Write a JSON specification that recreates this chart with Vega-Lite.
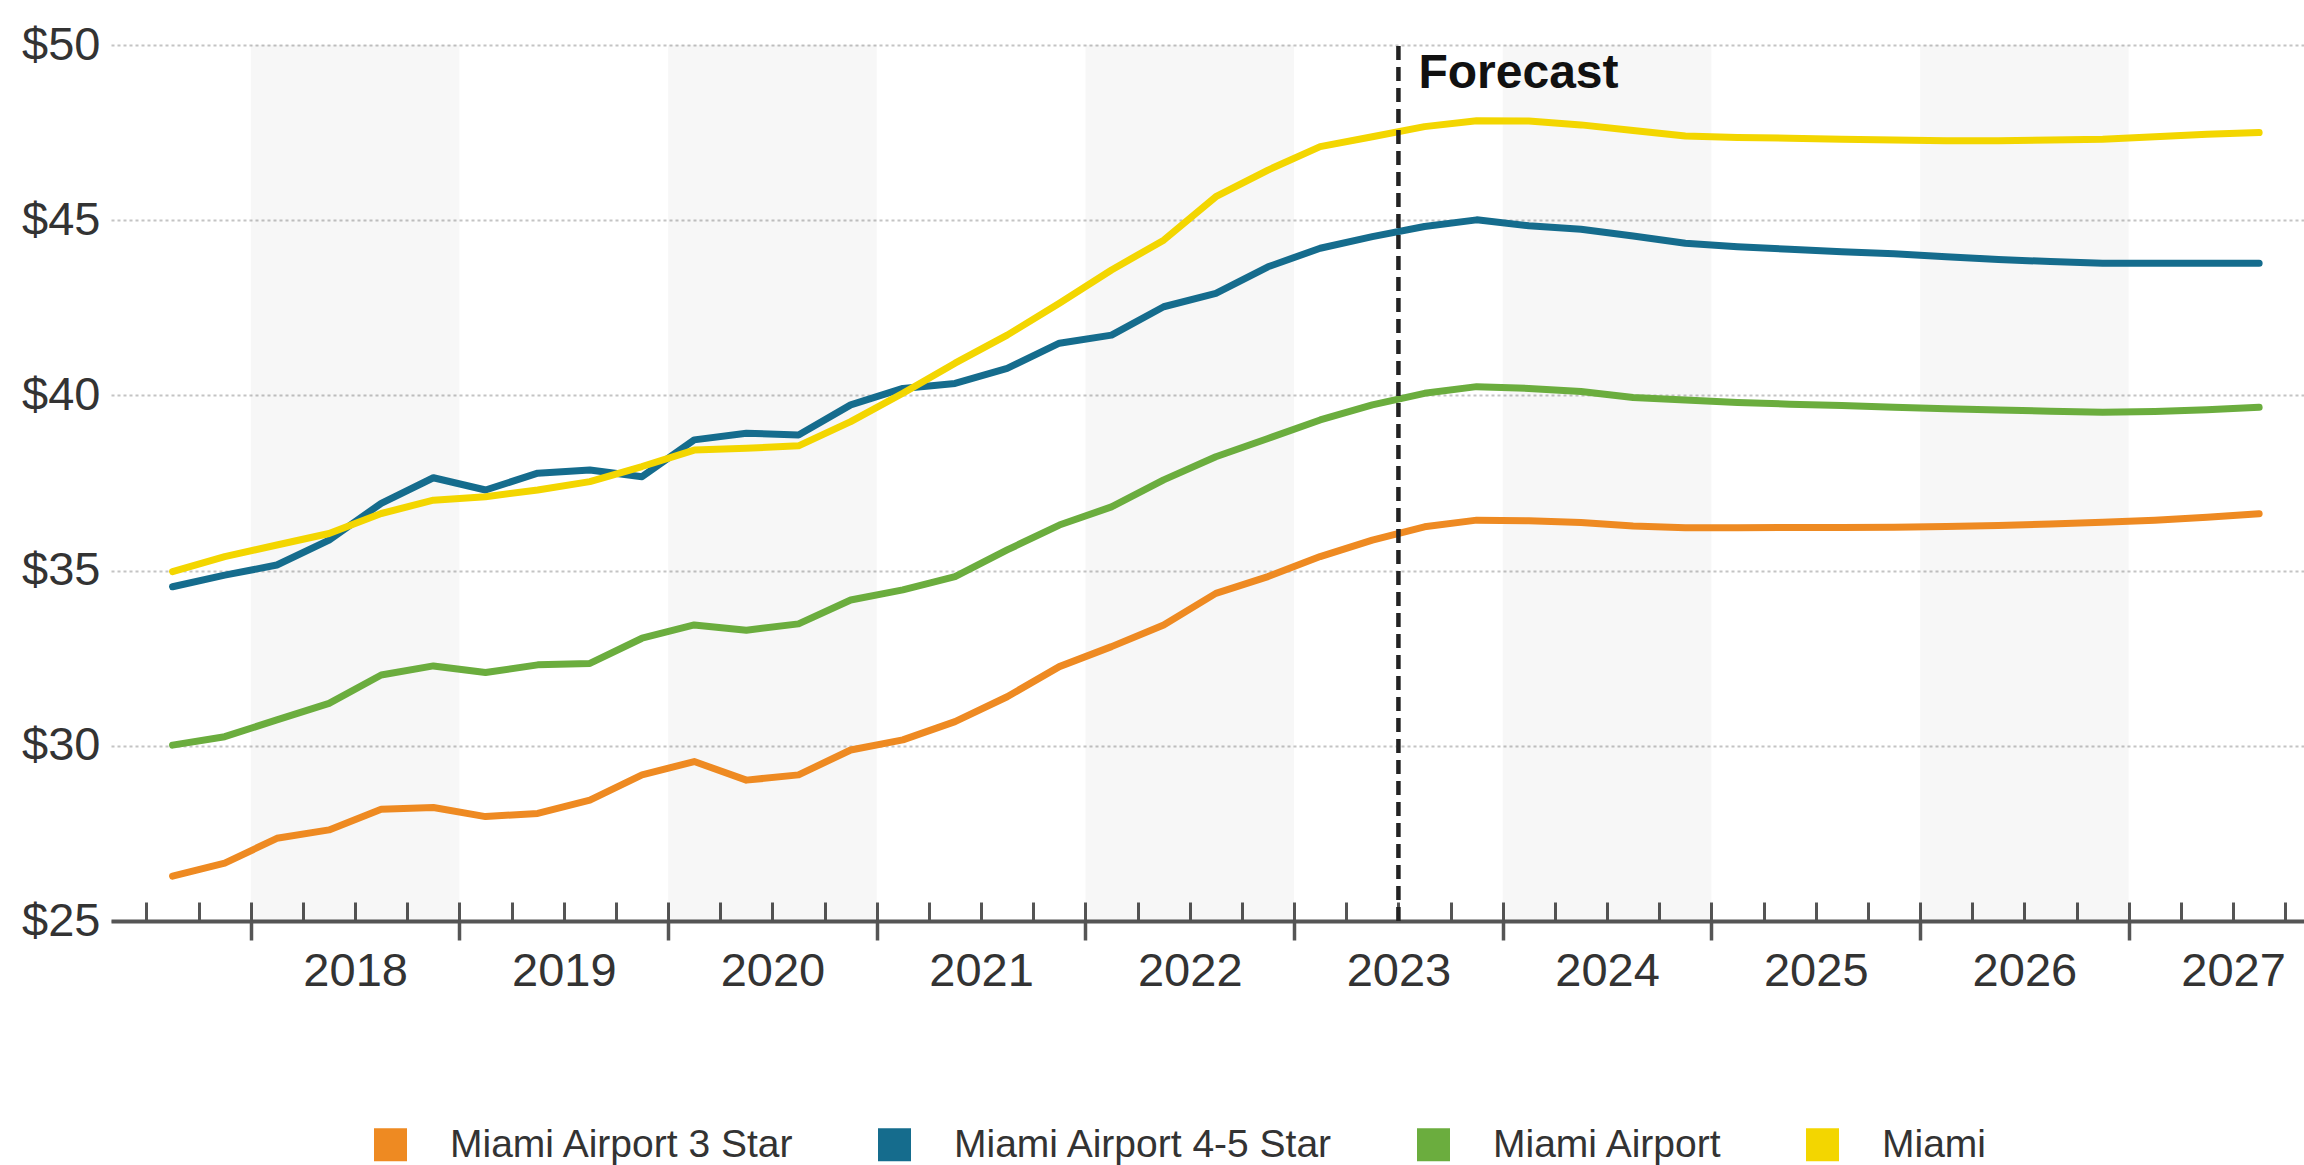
{
  "$schema": "https://vega.github.io/schema/vega-lite/v6.json",
  "width": 2193,
  "height": 876,
  "autosize": {"type": "none"},
  "padding": {"left": 111, "top": 45, "right": 0, "bottom": 244},
  "background": "white",
  "config": {"view": {"stroke": null}, "font": "Liberation Sans"},
  "datasets": {
    "rents": [
      {"t": 2017.625, "Miami Airport 3 Star": 26.28, "Miami Airport 4-5 Star": 34.54, "Miami Airport": 30.02, "Miami": 34.97},
      {"t": 2017.875, "Miami Airport 3 Star": 26.65, "Miami Airport 4-5 Star": 34.87, "Miami Airport": 30.26, "Miami": 35.40},
      {"t": 2018.125, "Miami Airport 3 Star": 27.36, "Miami Airport 4-5 Star": 35.16, "Miami Airport": 30.74, "Miami": 35.73},
      {"t": 2018.375, "Miami Airport 3 Star": 27.60, "Miami Airport 4-5 Star": 35.87, "Miami Airport": 31.21, "Miami": 36.06},
      {"t": 2018.625, "Miami Airport 3 Star": 28.19, "Miami Airport 4-5 Star": 36.92, "Miami Airport": 32.02, "Miami": 36.63},
      {"t": 2018.875, "Miami Airport 3 Star": 28.24, "Miami Airport 4-5 Star": 37.65, "Miami Airport": 32.28, "Miami": 37.01},
      {"t": 2019.125, "Miami Airport 3 Star": 27.98, "Miami Airport 4-5 Star": 37.30, "Miami Airport": 32.09, "Miami": 37.11},
      {"t": 2019.375, "Miami Airport 3 Star": 28.07, "Miami Airport 4-5 Star": 37.78, "Miami Airport": 32.31, "Miami": 37.30},
      {"t": 2019.625, "Miami Airport 3 Star": 28.45, "Miami Airport 4-5 Star": 37.87, "Miami Airport": 32.35, "Miami": 37.54},
      {"t": 2019.875, "Miami Airport 3 Star": 29.17, "Miami Airport 4-5 Star": 37.68, "Miami Airport": 33.07, "Miami": 37.97},
      {"t": 2020.125, "Miami Airport 3 Star": 29.55, "Miami Airport 4-5 Star": 38.73, "Miami Airport": 33.45, "Miami": 38.44},
      {"t": 2020.375, "Miami Airport 3 Star": 29.02, "Miami Airport 4-5 Star": 38.92, "Miami Airport": 33.30, "Miami": 38.49},
      {"t": 2020.625, "Miami Airport 3 Star": 29.17, "Miami Airport 4-5 Star": 38.87, "Miami Airport": 33.48, "Miami": 38.56},
      {"t": 2020.875, "Miami Airport 3 Star": 29.88, "Miami Airport 4-5 Star": 39.73, "Miami Airport": 34.16, "Miami": 39.25},
      {"t": 2021.125, "Miami Airport 3 Star": 30.17, "Miami Airport 4-5 Star": 40.20, "Miami Airport": 34.45, "Miami": 40.06},
      {"t": 2021.375, "Miami Airport 3 Star": 30.69, "Miami Airport 4-5 Star": 40.34, "Miami Airport": 34.83, "Miami": 40.92},
      {"t": 2021.625, "Miami Airport 3 Star": 31.40, "Miami Airport 4-5 Star": 40.77, "Miami Airport": 35.59, "Miami": 41.72},
      {"t": 2021.875, "Miami Airport 3 Star": 32.26, "Miami Airport 4-5 Star": 41.49, "Miami Airport": 36.30, "Miami": 42.63},
      {"t": 2022.125, "Miami Airport 3 Star": 32.83, "Miami Airport 4-5 Star": 41.72, "Miami Airport": 36.82, "Miami": 43.58},
      {"t": 2022.375, "Miami Airport 3 Star": 33.45, "Miami Airport 4-5 Star": 42.53, "Miami Airport": 37.59, "Miami": 44.43},
      {"t": 2022.625, "Miami Airport 3 Star": 34.35, "Miami Airport 4-5 Star": 42.91, "Miami Airport": 38.25, "Miami": 45.67},
      {"t": 2022.875, "Miami Airport 3 Star": 34.83, "Miami Airport 4-5 Star": 43.67, "Miami Airport": 38.77, "Miami": 46.43},
      {"t": 2023.125, "Miami Airport 3 Star": 35.40, "Miami Airport 4-5 Star": 44.20, "Miami Airport": 39.30, "Miami": 47.10},
      {"t": 2023.375, "Miami Airport 3 Star": 35.87, "Miami Airport 4-5 Star": 44.53, "Miami Airport": 39.73, "Miami": 47.38},
      {"t": 2023.625, "Miami Airport 3 Star": 36.25, "Miami Airport 4-5 Star": 44.82, "Miami Airport": 40.06, "Miami": 47.67},
      {"t": 2023.875, "Miami Airport 3 Star": 36.44, "Miami Airport 4-5 Star": 45.01, "Miami Airport": 40.25, "Miami": 47.84},
      {"t": 2024.125, "Miami Airport 3 Star": 36.42, "Miami Airport 4-5 Star": 44.84, "Miami Airport": 40.20, "Miami": 47.83},
      {"t": 2024.375, "Miami Airport 3 Star": 36.37, "Miami Airport 4-5 Star": 44.74, "Miami Airport": 40.11, "Miami": 47.72},
      {"t": 2024.625, "Miami Airport 3 Star": 36.27, "Miami Airport 4-5 Star": 44.55, "Miami Airport": 39.94, "Miami": 47.56},
      {"t": 2024.875, "Miami Airport 3 Star": 36.22, "Miami Airport 4-5 Star": 44.34, "Miami Airport": 39.87, "Miami": 47.40},
      {"t": 2025.125, "Miami Airport 3 Star": 36.22, "Miami Airport 4-5 Star": 44.24, "Miami Airport": 39.80, "Miami": 47.36},
      {"t": 2025.375, "Miami Airport 3 Star": 36.23, "Miami Airport 4-5 Star": 44.17, "Miami Airport": 39.75, "Miami": 47.34},
      {"t": 2025.625, "Miami Airport 3 Star": 36.23, "Miami Airport 4-5 Star": 44.10, "Miami Airport": 39.71, "Miami": 47.31},
      {"t": 2025.875, "Miami Airport 3 Star": 36.24, "Miami Airport 4-5 Star": 44.04, "Miami Airport": 39.66, "Miami": 47.29},
      {"t": 2026.125, "Miami Airport 3 Star": 36.26, "Miami Airport 4-5 Star": 43.96, "Miami Airport": 39.62, "Miami": 47.27},
      {"t": 2026.375, "Miami Airport 3 Star": 36.29, "Miami Airport 4-5 Star": 43.88, "Miami Airport": 39.58, "Miami": 47.27},
      {"t": 2026.625, "Miami Airport 3 Star": 36.33, "Miami Airport 4-5 Star": 43.82, "Miami Airport": 39.55, "Miami": 47.29},
      {"t": 2026.875, "Miami Airport 3 Star": 36.38, "Miami Airport 4-5 Star": 43.77, "Miami Airport": 39.52, "Miami": 47.31},
      {"t": 2027.125, "Miami Airport 3 Star": 36.44, "Miami Airport 4-5 Star": 43.77, "Miami Airport": 39.54, "Miami": 47.38},
      {"t": 2027.375, "Miami Airport 3 Star": 36.52, "Miami Airport 4-5 Star": 43.77, "Miami Airport": 39.59, "Miami": 47.45},
      {"t": 2027.625, "Miami Airport 3 Star": 36.62, "Miami Airport 4-5 Star": 43.77, "Miami Airport": 39.66, "Miami": 47.50}
    ],
    "bands": [
      {"start": 2018, "end": 2019},
      {"start": 2020, "end": 2021},
      {"start": 2022, "end": 2023},
      {"start": 2024, "end": 2025},
      {"start": 2026, "end": 2027}
    ],
    "marker": [
      {"start": 2023.5, "label": "Forecast"}
    ]
  },
  "layer": [
    {
      "data": {"name": "bands"},
      "mark": {"type": "rect", "color": "#000000", "opacity": 0.03},
      "encoding": {
        "x": {
          "field": "start", "type": "quantitative",
          "scale": {"domain": [2017.33, 2027.84], "nice": false, "zero": false},
          "axis": {
            "orient": "bottom", "title": null,
            "values": [2018.5, 2019.5, 2020.5, 2021.5, 2022.5, 2023.5, 2024.5, 2025.5, 2026.5, 2027.5],
            "labelExpr": "format(floor(datum.value), 'd')",
            "ticks": false, "domain": false, "grid": false,
            "labelFontSize": 47, "labelColor": "#333333", "labelFont": "Liberation Sans",
            "labelBaseline": "alphabetic", "labelPadding": 64,
            "labelOverlap": false, "labelFlush": false
          }
        },
        "x2": {"field": "end"},
        "y": {
          "datum": 25, "type": "quantitative",
          "scale": {"domain": [25, 50], "nice": false, "zero": false},
          "axis": {
            "orient": "left", "title": null,
            "values": [25, 30, 35, 40, 45, 50],
            "labelExpr": "'$' + datum.value",
            "domain": false, "ticks": false,
            "grid": true, "gridColor": "#c4c4c4", "gridDash": [3, 3], "gridWidth": 2,
            "labelFontSize": 47, "labelColor": "#333333", "labelFont": "Liberation Sans",
            "labelPadding": 11
          }
        },
        "y2": {"datum": 50}
      }
    },
    {
      "data": {"name": "rents"},
      "transform": [
        {"fold": ["Miami Airport 3 Star", "Miami Airport 4-5 Star", "Miami Airport", "Miami"], "as": ["series", "rent"]}
      ],
      "mark": {"type": "line", "strokeWidth": 7, "strokeCap": "round", "strokeJoin": "round"},
      "encoding": {
        "x": {
          "field": "t", "type": "quantitative",
          "scale": {"domain": [2017.33, 2027.84], "nice": false, "zero": false},
          "axis": {
            "orient": "bottom", "title": null,
            "values": [2017.5, 2017.75, 2018, 2018.25, 2018.5, 2018.75, 2019, 2019.25, 2019.5, 2019.75, 2020, 2020.25, 2020.5, 2020.75, 2021, 2021.25, 2021.5, 2021.75, 2022, 2022.25, 2022.5, 2022.75, 2023, 2023.25, 2023.5, 2023.75, 2024, 2024.25, 2024.5, 2024.75, 2025, 2025.25, 2025.5, 2025.75, 2026, 2026.25, 2026.5, 2026.75, 2027, 2027.25, 2027.5, 2027.75],
            "labels": false, "grid": false,
            "tickSize": -19, "tickWidth": 3, "tickColor": "#555555",
            "domain": true, "domainColor": "#555555", "domainWidth": 4
          }
        },
        "y": {
          "field": "rent", "type": "quantitative",
          "scale": {"domain": [25, 50], "nice": false, "zero": false},
          "axis": null
        },
        "color": {
          "field": "series", "type": "nominal",
          "scale": {
            "domain": ["Miami Airport 3 Star", "Miami Airport 4-5 Star", "Miami Airport", "Miami"],
            "range": ["#EE8A22", "#156C8D", "#6BAD3E", "#F3D600"]
          },
          "legend": {
            "orient": "none", "legendX": 260, "legendY": 1080,
            "direction": "horizontal", "title": null, "padding": 0,
            "symbolType": "square", "symbolSize": 1089, "symbolStrokeWidth": 0, "symbolOpacity": 1,
            "labelFontSize": 39, "labelColor": "#333333", "labelFont": "Liberation Sans",
            "labelOffset": 40, "columnPadding": 80, "labelLimit": 1000,
            "encode": {
              "symbols": {"update": {"fill": {"scale": "color", "field": "value"}, "strokeWidth": {"value": 0}}}
            }
          }
        }
      }
    },
    {
      "data": {"name": "marker"},
      "mark": {"type": "rule", "strokeDash": [14, 7], "strokeWidth": 4.5, "color": "#222222"},
      "encoding": {
        "x": {
          "field": "start", "type": "quantitative",
          "scale": {"domain": [2017.33, 2027.84], "nice": false, "zero": false},
          "axis": {
            "orient": "bottom", "title": null,
            "values": [2018, 2019, 2020, 2021, 2022, 2023, 2024, 2025, 2026, 2027],
            "labels": false, "grid": false, "domain": false,
            "tickSize": 19, "tickWidth": 3.5, "tickColor": "#555555"
          }
        },
        "y": {"datum": 25, "type": "quantitative", "scale": {"domain": [25, 50], "nice": false, "zero": false}, "axis": null},
        "y2": {"datum": 50}
      }
    },
    {
      "data": {"name": "marker"},
      "mark": {
        "type": "text", "align": "left", "baseline": "alphabetic",
        "dx": 20, "dy": 43, "fontSize": 48, "fontWeight": "bold",
        "font": "Liberation Sans", "color": "#111111"
      },
      "encoding": {
        "x": {"field": "start", "type": "quantitative", "scale": {"domain": [2017.33, 2027.84], "nice": false, "zero": false}, "axis": null},
        "y": {"datum": 50, "type": "quantitative", "scale": {"domain": [25, 50], "nice": false, "zero": false}, "axis": null},
        "text": {"field": "label"}
      }
    }
  ],
  "resolve": {"axis": {"x": "independent", "y": "independent"}}
}
